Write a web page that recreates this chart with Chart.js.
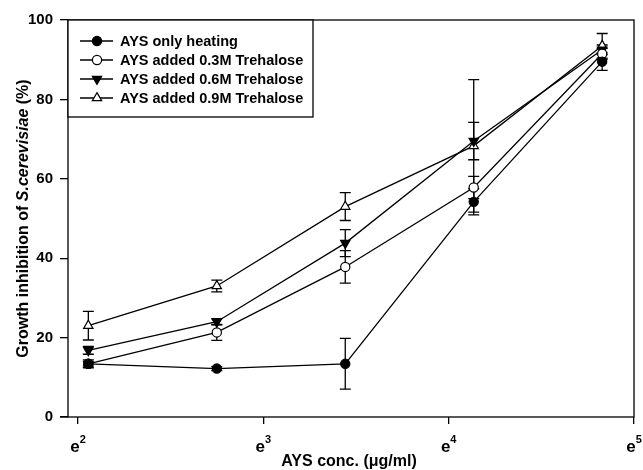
<!DOCTYPE html>
<html>
<head>
<meta charset="utf-8">
<script src="https://cdn.jsdelivr.net/npm/chart.js@4/dist/chart.umd.min.js"></script>
<style>
  body { margin: 0; background: #fff; }
  #wrap { width: 643px; height: 470px; }
</style>
</head>
<body>
<div id="wrap"><canvas id="plot" width="643" height="470"></canvas></div>
<script>
// concentrations in ug/ml (two-fold dilutions)
const concentrations = [7.8125, 15.625, 31.25, 62.5, 125];

const seriesNames = [
  "AYS only heating",
  "AYS added 0.3M Trehalose",
  "AYS added 0.6M Trehalose",
  "AYS added 0.9M Trehalose"
];

const heating = [13.4, 12.2, 13.4, 54.2, 89.5];
const heatingErr = [0.6, 0.5, 6.4, 3.3, 2.2];

const treh03 = [13.4, 21.3, 37.8, 57.8, 91.5];
const treh03Err = [1.0, 2.0, 4.1, 2.8, 1.4];

const treh06 = [16.8, 24.0, 43.8, 69.5, 92.5];
const treh06Err = [1.0, 0.8, 3.4, 4.7, 1.2];

const treh09 = [23.0, 33.0, 53.0, 68.3, 93.5];
const treh09Err = [3.6, 1.5, 3.5, 16.7, 3.1];

// tick positions, as powers of e
const xTickPowers = [2, 3, 4, 5];
const yTicks = [0, 20, 40, 60, 80, 100];

const FONT = "'Liberation Sans', Arial, sans-serif";

function pts(vals) {
  return vals.map((v, i) => ({ x: concentrations[i], y: v }));
}

const markers = [
  { style: "circle", fill: "#000", rot: 0, r: 4.6 },
  { style: "circle", fill: "#fff", rot: 0, r: 4.6 },
  { style: "triangle", fill: "#000", rot: 180, r: 5.4 },
  { style: "triangle", fill: "#fff", rot: 0, r: 5.4 }
];

const allValues = [heating, treh03, treh06, treh09];
const allErrors = [heatingErr, treh03Err, treh06Err, treh09Err];

const datasets = allValues.map((vals, k) => ({
  label: seriesNames[k],
  data: pts(vals),
  borderColor: "#000",
  borderWidth: 1.3,
  pointStyle: markers[k].style,
  pointRotation: markers[k].rot,
  pointRadius: markers[k].r,
  pointBackgroundColor: markers[k].fill,
  pointBorderColor: "#000",
  pointBorderWidth: 1.2,
  tension: 0,
  errors: allErrors[k]
}));

// error bars, drawn before the lines and points
const errorBars = {
  id: "errorBars",
  beforeDatasetsDraw(chart) {
    const ctx = chart.ctx;
    const xs = chart.scales.x, ys = chart.scales.y;
    ctx.save();
    ctx.strokeStyle = "#000";
    ctx.lineWidth = 1.3;
    chart.data.datasets.forEach(ds => {
      ds.data.forEach((p, i) => {
        const e = ds.errors[i];
        const px = xs.getPixelForValue(p.x);
        const top = ys.getPixelForValue(p.y + e);
        const bot = ys.getPixelForValue(p.y - e);
        ctx.beginPath();
        ctx.moveTo(px, top); ctx.lineTo(px, bot);
        ctx.moveTo(px - 5.5, top); ctx.lineTo(px + 5.5, top);
        ctx.moveTo(px - 5.5, bot); ctx.lineTo(px + 5.5, bot);
        ctx.stroke();
      });
    });
    ctx.restore();
  }
};

// frame, legend, x tick labels and axis titles
const decorations = {
  id: "decorations",
  afterDraw(chart) {
    const ctx = chart.ctx;
    const a = chart.chartArea;
    const xs = chart.scales.x;
    ctx.save();
    ctx.strokeStyle = "#000";
    ctx.lineWidth = 1.3;
    ctx.strokeRect(a.left, a.top, a.right - a.left, a.bottom - a.top);
    // x axis line runs a little past the y axis
    ctx.beginPath();
    ctx.moveTo(a.left - 8, a.bottom); ctx.lineTo(a.left, a.bottom);
    ctx.stroke();

    // legend box
    const lx = a.left, ly = a.top, lw = 245, lh = 97;
    ctx.fillStyle = "#fff";
    ctx.fillRect(lx, ly, lw, lh);
    ctx.strokeRect(lx, ly, lw, lh);
    ctx.font = "bold 14.5px " + FONT;
    ctx.textBaseline = "middle";
    ctx.textAlign = "left";
    chart.data.datasets.forEach((ds, k) => {
      const y = ly + 21 + k * 19;
      ctx.beginPath();
      ctx.moveTo(lx + 12, y); ctx.lineTo(lx + 45, y);
      ctx.lineWidth = 1.3;
      ctx.strokeStyle = "#000";
      ctx.stroke();
      ctx.fillStyle = ds.pointBackgroundColor;
      ctx.lineWidth = 1.2;
      Chart.helpers.drawPoint(ctx, {
        pointStyle: ds.pointStyle,
        rotation: ds.pointRotation,
        radius: ds.pointRadius,
        borderWidth: 1.2
      }, lx + 29, y);
      ctx.fillStyle = "#000";
      ctx.fillText(ds.label, lx + 52, y + 1);
    });

    // x tick labels e^n
    xTickPowers.forEach(n => {
      const px = xs.getPixelForValue(Math.exp(n));
      ctx.font = "bold 17px " + FONT;
      const w1 = ctx.measureText("e").width;
      ctx.font = "bold 11px " + FONT;
      const w2 = ctx.measureText(String(n)).width;
      const x0 = px - (w1 + w2) / 2;
      ctx.fillStyle = "#000";
      ctx.textBaseline = "alphabetic";
      ctx.font = "bold 17px " + FONT;
      ctx.fillText("e", x0, a.bottom + 35);
      ctx.font = "bold 11px " + FONT;
      ctx.fillText(String(n), x0 + w1, a.bottom + 26);
    });

    // x title
    ctx.font = "bold 16px " + FONT;
    ctx.textAlign = "center";
    ctx.fillText("AYS conc. (\u03bcg/ml)", (a.left + a.right) / 2 - 2, 466);

    // y title with italic species name
    const parts = [
      ["Growth inhibition of ", "bold 16px " + FONT],
      ["S.cerevisiae", "italic bold 16px " + FONT],
      [" (%)", "bold 16px " + FONT]
    ];
    let total = 0;
    parts.forEach(p => { ctx.font = p[1]; total += ctx.measureText(p[0]).width; });
    ctx.translate(24, (a.top + a.bottom) / 2);
    ctx.rotate(-Math.PI / 2);
    ctx.textAlign = "left";
    ctx.textBaseline = "middle";
    let cx = -total / 2;
    parts.forEach(p => {
      ctx.font = p[1];
      ctx.fillText(p[0], cx, 0);
      cx += ctx.measureText(p[0]).width;
    });
    ctx.restore();
  }
};

const context = document.getElementById("plot").getContext("2d");
const chart = new Chart(context, {
  type: "line",
  data: { datasets },
  plugins: [errorBars, decorations],
  options: {
    responsive: false,
    animation: false,
    layout: { padding: { top: 20, right: 9, left: 0, bottom: 0 } },
    plugins: { legend: { display: false }, tooltip: { enabled: false } },
    scales: {
      x: {
        type: "logarithmic",
        min: Math.exp(1.946),
        max: Math.exp(5),
        afterBuildTicks(scale) {
          scale.ticks = xTickPowers.map(n => ({ value: Math.exp(n) }));
        },
        afterFit(scale) { scale.height = 53; },
        grid: {
          drawOnChartArea: false,
          drawTicks: true,
          tickLength: 7,
          color: "#000",
          lineWidth: 1.3
        },
        border: { display: false },
        ticks: { callback: () => "", font: { size: 1 } }
      },
      y: {
        min: 0,
        max: 100,
        afterBuildTicks(scale) {
          scale.ticks = yTicks.map(v => ({ value: v }));
        },
        afterFit(scale) { scale.width = 68; },
        grid: {
          drawOnChartArea: false,
          drawTicks: true,
          tickLength: 8,
          color: "#000",
          lineWidth: 1.3
        },
        border: { display: false },
        ticks: {
          color: "#000",
          padding: 7,
          font: { family: FONT, size: 15, weight: "bold" }
        }
      }
    }
  }
});
</script>
</body>
</html>
